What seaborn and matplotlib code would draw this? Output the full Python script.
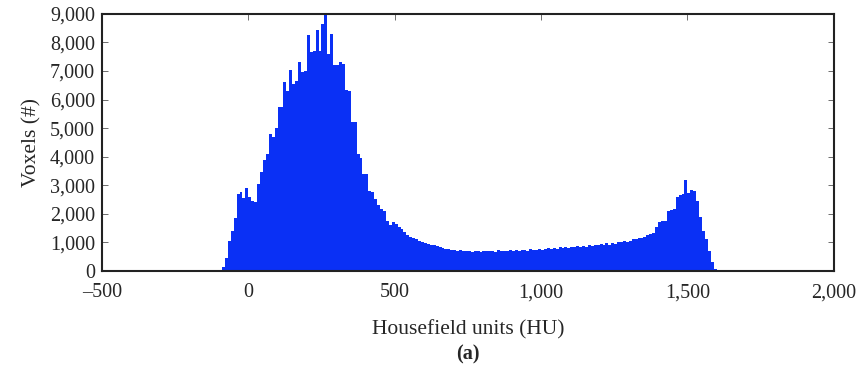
#!/usr/bin/env python3
"""
Histogram of voxel intensities (Hounsfield units), recreated with seaborn.
"""
import matplotlib
matplotlib.use('Agg')
import matplotlib.pyplot as plt
import matplotlib.ticker as mticker
import numpy as np
import pandas as pd
import seaborn as sns

# bin width of 10 HU, first bin starts at -90 HU
BIN_START = -90
BIN_WIDTH = 10
VOXEL_COUNTS = [
    # -90 .. 0
    150, 450, 1050, 1400, 1850, 2700, 2750, 2550, 2900,
    # 0 .. 100
    2600, 2450, 2400, 3050, 3450, 3900, 4100, 4800, 4700, 5000,
    # 100 .. 200
    5750, 5750, 6600, 6300, 7050, 6550, 6650, 7300, 6950, 7000,
    # 200 .. 300
    8250, 7650, 7700, 8450, 7700, 8650, 9000, 7600, 8300, 7200,
    # 300 .. 400
    7200, 7300, 7250, 6350, 6300, 5200, 5200, 4100, 3950, 3400,
    # 400 .. 500
    3400, 2800, 2750, 2500, 2300, 2150, 2100, 1750, 1600, 1700,
    # 500 .. 600
    1650, 1550, 1450, 1350, 1250, 1200, 1150, 1100, 1050, 1000,
    # 600 .. 700
    980, 950, 920, 900, 860, 820, 800, 780, 760, 730,
    # 700 .. 800
    740, 700, 720, 680, 690, 700, 660, 680, 690, 670,
    # 800 .. 900
    700, 680, 690, 700, 670, 720, 690, 700, 680, 720,
    # 900 .. 1000
    700, 730, 690, 740, 720, 700, 760, 720, 740, 780,
    # 1000 .. 1100
    740, 760, 790, 760, 800, 780, 820, 790, 830, 800,
    # 1100 .. 1200
    840, 820, 860, 830, 880, 850, 900, 870, 920, 900,
    # 1200 .. 1300
    940, 900, 980, 920, 990, 950, 1000, 1020, 1050, 1000,
    # 1300 .. 1400
    1050, 1110, 1110, 1140, 1140, 1200, 1260, 1300, 1340, 1540,
    # 1400 .. 1500
    1700, 1750, 1750, 2100, 2120, 2150, 2600, 2660, 2700, 3170,
    # 1500 .. 1610
    2740, 2820, 2800, 2450, 1870, 1400, 1110, 700, 300, 80, 20,
]

X_TICKS = [-500, 0, 500, 1000, 1500, 2000]
Y_TICKS = [0, 1000, 2000, 3000, 4000, 5000, 6000, 7000, 8000, 9000]

n_bins = len(VOXEL_COUNTS)
centers = BIN_START + BIN_WIDTH * (np.arange(n_bins) + 0.5)
data = pd.DataFrame({'hu': centers, 'count': VOXEL_COUNTS})

sns.set_style('ticks')
plt.rcParams['font.family'] = ['Liberation Serif', 'DejaVu Serif']

fig = plt.figure(figsize=(8.64, 3.66), dpi=100)
ax = fig.add_axes([0.118, 0.26, 0.847, 0.702])

sns.histplot(data=data, x='hu', weights='count', binwidth=BIN_WIDTH,
             binrange=(BIN_START, BIN_START + BIN_WIDTH * n_bins), ax=ax,
             color='#0a30f5', alpha=1, linewidth=0, element='bars')

ax.set_xlim(-500, 2000)
ax.set_ylim(0, 9000)
ax.set_xticks(X_TICKS)
ax.set_yticks(Y_TICKS)


def fmt(v, pos):
    s = f'{abs(v):,.0f}'
    return ('\u2013' + s) if v < 0 else s


ax.xaxis.set_major_formatter(mticker.FuncFormatter(fmt))
ax.yaxis.set_major_formatter(mticker.FuncFormatter(fmt))
ax.tick_params(direction='in', length=4, width=0.6, color='#555555',
               top=True, right=True, labelsize=14.5)
ax.tick_params(axis='x', pad=9)
ax.tick_params(axis='y', pad=5)
for s in ax.spines.values():
    s.set_linewidth(1.5)
    s.set_color('#222222')

ax.set_xlabel('Housefield units (HU)', fontsize=15.5, labelpad=13)
ax.set_ylabel('Voxels (#)', fontsize=15.5, labelpad=6)
fig.text(0.541, 0.018, '(a)', ha='center', fontsize=14.5, fontweight='bold')

fig.savefig('out.png', dpi=100)
